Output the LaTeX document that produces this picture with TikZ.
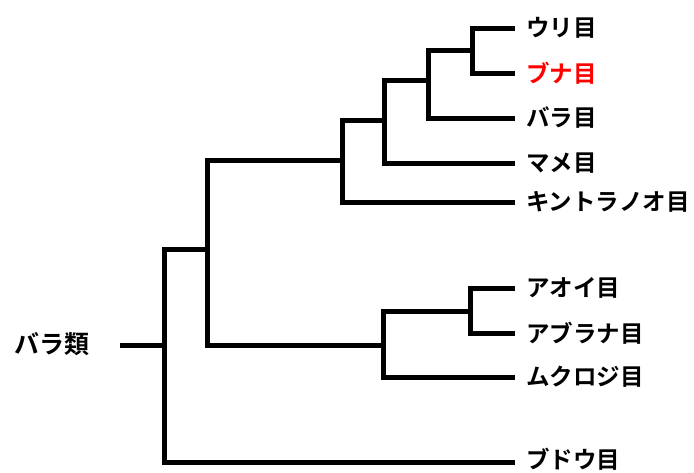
\documentclass[tikz,border=0pt]{standalone}
\usepackage{fontspec}
\newfontfamily\jpbold{Noto Sans CJK JP Bold}
\begin{document}
\begin{tikzpicture}[x=1pt,y=-1pt,
  branch/.style={line width=5pt,line join=miter,line cap=butt},
  leaf/.style={anchor=west,inner xsep=11pt,inner ysep=0pt,font=\jpbold\fontsize{23.5}{23.5}\selectfont},
  rootlabel/.style={anchor=east,inner sep=0pt,font=\jpbold\fontsize{25}{25}\selectfont}]
\useasboundingbox (0,0) rectangle (694,472);

% leaves (line ends at the west anchor)
\node[leaf] (uri)   at (515,28)  {ウリ目};
\node[leaf,text=red] (buna) at (515,73) {ブナ目};
\node[leaf] (bara)  at (515,118) {バラ目};
\node[leaf] (mame)  at (515,163) {マメ目};
\node[leaf] (kin)   at (515,202) {キントラノオ目};
\node[leaf] (aoi)   at (515,288) {アオイ目};
\node[leaf] (abu)   at (515,333) {アブラナ目};
\node[leaf] (muku)  at (515,377) {ムクロジ目};
% bottom label sits a little above its line so it stays inside the frame
\coordinate (budoend) at (515,462);
\node[leaf] (budo)  at (515,459) {ブドウ目};

% internal branch points
\coordinate (a) at (472,50);
\coordinate (b) at (428,80);
\coordinate (c) at (384,120);
\coordinate (d) at (342,160);
\coordinate (e) at (207,249);
\coordinate (h) at (470,311);
\coordinate (f) at (383,345);
\coordinate (g) at (164,345);
\coordinate (rt) at (120,345);

\node[rootlabel] (root) at (90,344) {バラ類};

% connectors
\draw[branch] (a) |- (uri.west);
\draw[branch] (a) |- (buna.west);
\draw[branch] (b) |- (a);
\draw[branch] (b) |- (bara.west);
\draw[branch] (c) |- (b);
\draw[branch] (c) |- (mame.west);
\draw[branch] (d) |- (c);
\draw[branch] (d) |- (kin.west);
\draw[branch] (h) |- (aoi.west);
\draw[branch] (h) |- (abu.west);
\draw[branch] (f) |- (h);
\draw[branch] (f) |- (muku.west);
\draw[branch] (e) |- (d);
\draw[branch] (e) |- (f);
\draw[branch] (g) |- (e);
\draw[branch] (g) |- (budoend);
\draw[branch] (rt) -- (g);
\end{tikzpicture}
\end{document}
